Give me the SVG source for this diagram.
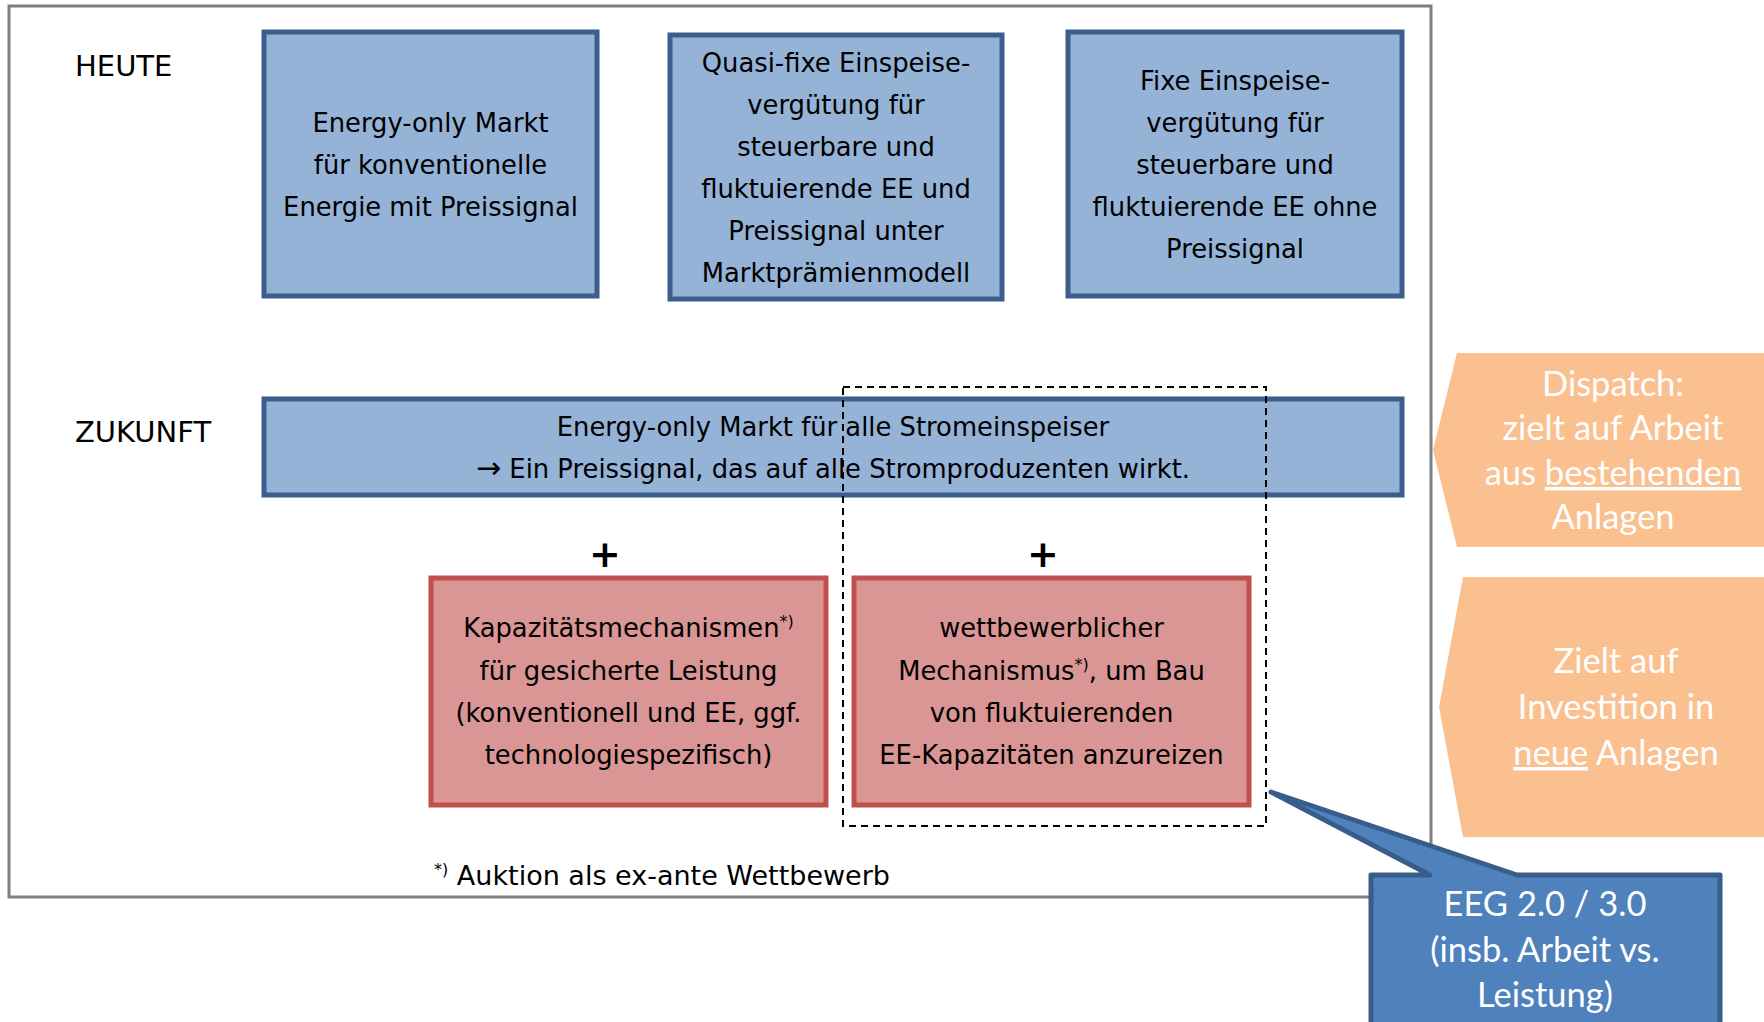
<svg xmlns="http://www.w3.org/2000/svg" width="1764" height="1022" viewBox="0 0 1764 1022">
<style>
.frame{fill:none;stroke:#7f7f7f;stroke-width:3}
.blue{fill:#95b3d7;stroke:#3b5e8c;stroke-width:5}
.red{fill:#d99694;stroke:#c0504d;stroke-width:5}
.orange{fill:#fac090}
.dash{fill:none;stroke:#000;stroke-width:2;stroke-dasharray:7,5}
.t{font-family:"DejaVu Sans",Verdana,sans-serif;font-size:25.8px;fill:#000;text-anchor:middle}
.lbl{font-family:"DejaVu Sans",Verdana,sans-serif;font-size:29px;fill:#000}
.w{font-family:Lato,"Open Sans",sans-serif;font-size:34.5px;fill:#fff;text-anchor:middle}
.sup{font-size:16px}
.plus{font-family:"DejaVu Sans",sans-serif;font-weight:bold;font-size:38px;text-anchor:middle}
</style>
<rect width="1764" height="1022" fill="#fff"/>
<rect class="frame" x="9" y="6" width="1422" height="891"/>
<text class="lbl" x="75" y="76">HEUTE</text>
<text class="lbl" x="75" y="442">ZUKUNFT</text>
<g id="box1">
<rect class="blue" x="264" y="32" width="333" height="264"/>
<text class="t"><tspan x="430.5" y="132">Energy-only Markt</tspan><tspan x="430.5" y="174">für konventionelle</tspan><tspan x="430.5" y="216">Energie mit Preissignal</tspan></text>
</g>
<g id="box2">
<rect class="blue" x="670" y="35" width="332" height="264"/>
<text class="t"><tspan x="836" y="72">Quasi-fixe Einspeise-</tspan><tspan x="836" y="114">vergütung für</tspan><tspan x="836" y="156">steuerbare und</tspan><tspan x="836" y="198">fluktuierende EE und</tspan><tspan x="836" y="240">Preissignal unter</tspan><tspan x="836" y="282">Marktprämienmodell</tspan></text>
</g>
<g id="box3">
<rect class="blue" x="1068" y="32" width="334" height="264"/>
<text class="t"><tspan x="1235" y="90">Fixe Einspeise-</tspan><tspan x="1235" y="132">vergütung für</tspan><tspan x="1235" y="174">steuerbare und</tspan><tspan x="1235" y="216">fluktuierende EE ohne</tspan><tspan x="1235" y="258">Preissignal</tspan></text>
</g>
<g id="bar">
<rect class="blue" x="264" y="399" width="1138" height="96"/>
<text class="t"><tspan x="833" y="436">Energy-only Markt für alle Stromeinspeiser</tspan><tspan x="833" y="478"><tspan style="font-size:30px">→</tspan> Ein Preissignal, das auf alle Stromproduzenten wirkt.</tspan></text>
</g>
<text class="plus" x="605" y="567">+</text>
<text class="plus" x="1043" y="567">+</text>
<g id="red1">
<rect class="red" x="431" y="578" width="395" height="227"/>
<text class="t"><tspan x="628.5" y="637">Kapazitätsmechanismen<tspan class="sup" dy="-10">*)</tspan></tspan><tspan x="628.5" y="680">für gesicherte Leistung</tspan><tspan x="628.5" y="722">(konventionell und EE, ggf.</tspan><tspan x="628.5" y="764">technologiespezifisch)</tspan></text>
</g>
<g id="red2">
<rect class="red" x="854" y="578" width="395" height="227"/>
<text class="t"><tspan x="1051.5" y="637">wettbewerblicher</tspan><tspan x="1051.5" y="680">Mechanismus<tspan class="sup" dy="-10">*)</tspan><tspan dy="10">, um Bau</tspan></tspan><tspan x="1051.5" y="722">von fluktuierenden</tspan><tspan x="1051.5" y="764">EE-Kapazitäten anzureizen</tspan></text>
</g>
<g id="connectors">
<rect id="dashbox" class="dash" x="843" y="387" width="423" height="439"/>
</g>
<text class="lbl" style="font-size:27px" x="434" y="885"><tspan class="sup" dy="-10">*)</tspan><tspan dy="10"> Auktion als ex-ante Wettbewerb</tspan></text>
<g id="orange1">
<polygon class="orange" points="1457,353 1764,353 1764,547 1457,547 1433,450"/>
<text class="w"><tspan x="1613" y="396">Dispatch:</tspan><tspan x="1613" y="440">zielt auf Arbeit</tspan><tspan x="1613" y="485">aus <tspan text-decoration="underline">bestehenden</tspan></tspan><tspan x="1613" y="529">Anlagen</tspan></text>
</g>
<g id="orange2">
<polygon class="orange" points="1463,577 1764,577 1764,837 1463,837 1439,707"/>
<text class="w"><tspan x="1616" y="673">Zielt auf</tspan><tspan x="1616" y="719">Investition in</tspan><tspan x="1616" y="765"><tspan text-decoration="underline">neue</tspan> Anlagen</tspan></text>
</g>
<g id="callout">
<path d="M1371,875 L1430,875 L1271,792 L1517,875 L1720,875 L1720,1030 L1371,1030 Z" fill="#4f81bd" stroke="#385d8a" stroke-width="5" stroke-linejoin="round"/>
<text class="w"><tspan x="1545" y="916">EEG 2.0 / 3.0</tspan><tspan x="1545" y="962">(insb. Arbeit vs.</tspan><tspan x="1545" y="1007">Leistung)</tspan></text>
</g>
</svg>
